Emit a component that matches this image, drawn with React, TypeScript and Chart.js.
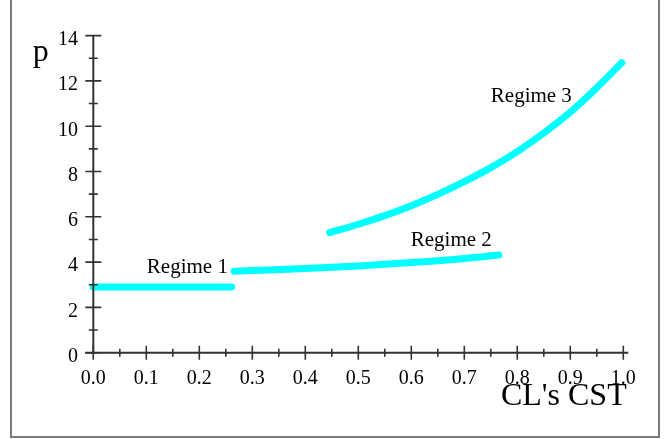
import React, { useEffect, useRef } from "react";
import { Chart, registerables } from "chart.js";

Chart.register(...registerables);

// ---- data ----
const regime1X = [0.0, 0.1, 0.2, 0.261];
const regime1P = [2.9, 2.9, 2.9, 2.9];

const regime2X = [0.266, 0.3, 0.4, 0.5, 0.6, 0.7, 0.765];
const regime2P = [3.6, 3.63, 3.72, 3.83, 3.98, 4.16, 4.31];

const regime3X = [0.446, 0.5, 0.55, 0.6, 0.65, 0.7, 0.75, 0.8, 0.85, 0.9, 0.95, 0.997];
const regime3P = [5.3, 5.67, 6.05, 6.49, 6.99, 7.55, 8.17, 8.88, 9.7, 10.62, 11.7, 12.8];

const xTickValues = [0.0, 0.1, 0.2, 0.3, 0.4, 0.5, 0.6, 0.7, 0.8, 0.9, 1.0];
const xTickLabels = ["0.0", "0.1", "0.2", "0.3", "0.4", "0.5", "0.6", "0.7", "0.8", "0.9", "1.0"];
const xMinorTicks = [0.05, 0.15, 0.25, 0.35, 0.45, 0.55, 0.65, 0.75, 0.85, 0.95];
const yTickValues = [0, 2, 4, 6, 8, 10, 12, 14];
const yTickLabels = ["0", "2", "4", "6", "8", "10", "12", "14"];
const yMinorTicks = [1, 3, 5, 7, 9, 11, 13];

const regimeLabels = ["Regime 1", "Regime 2", "Regime 3"];
const regimeLabelX = [0.101, 0.599, 0.75];
const regimeLabelP = [3.52, 4.71, 11.09];

const xTitle = "CL's CST";
const yTitle = "p";

const toPoints = (xs: number[], ys: number[]) => xs.map((x, i) => ({ x, y: ys[i] }));

const SERIF = "'Liberation Serif', 'Times New Roman', serif";
const AXIS = "#333333";

const axesPlugin = {
  id: "crossAxes",
  afterDatasetsDraw(chart: any) {
    const { ctx, chartArea, scales } = chart;
    const xs = scales.x;
    const ys = scales.y;
    const x0 = xs.getPixelForValue(0);
    const y0 = ys.getPixelForValue(0);
    ctx.save();
    ctx.strokeStyle = AXIS;
    ctx.lineCap = "butt";
    // axis lines
    ctx.lineWidth = 2;
    ctx.beginPath();
    ctx.moveTo(x0, ys.getPixelForValue(14));
    ctx.lineTo(x0, y0);
    ctx.moveTo(x0 - 8, y0);
    ctx.lineTo(xs.getPixelForValue(1) + 5, y0);
    ctx.stroke();
    // ticks
    ctx.lineWidth = 1.6;
    ctx.beginPath();
    yTickValues.forEach((v) => {
      const py = ys.getPixelForValue(v);
      ctx.moveTo(x0 - 8, py);
      ctx.lineTo(x0 + 8, py);
    });
    yMinorTicks.forEach((v) => {
      const py = ys.getPixelForValue(v);
      ctx.moveTo(x0 - 4.5, py);
      ctx.lineTo(x0 + 4.5, py);
    });
    xTickValues.forEach((v) => {
      const px = xs.getPixelForValue(v);
      ctx.moveTo(px, y0 - 7);
      ctx.lineTo(px, y0 + 7);
    });
    xMinorTicks.forEach((v) => {
      const px = xs.getPixelForValue(v);
      ctx.moveTo(px, y0 - 4);
      ctx.lineTo(px, y0 + 4);
    });
    ctx.stroke();

    // tick labels
    ctx.fillStyle = "#000";
    ctx.font = `20px ${SERIF}`;
    ctx.textBaseline = "alphabetic";
    ctx.textAlign = "right";
    yTickValues.forEach((v, i) => {
      ctx.fillText(yTickLabels[i], x0 - 15.3, ys.getPixelForValue(v) + 9.3);
    });
    ctx.textAlign = "center";
    xTickValues.forEach((v, i) => {
      ctx.fillText(xTickLabels[i], xs.getPixelForValue(v), y0 + 31.3);
    });

    // regime labels
    ctx.font = `21px ${SERIF}`;
    ctx.textAlign = "left";
    regimeLabels.forEach((t, i) => {
      ctx.fillText(t, xs.getPixelForValue(regimeLabelX[i]), ys.getPixelForValue(regimeLabelP[i]));
    });

    // axis titles
    ctx.font = `32px ${SERIF}`;
    ctx.textAlign = "left";
    ctx.fillText(yTitle, chartArea.left - 60.5, chartArea.top + 25);
    ctx.textAlign = "right";
    ctx.fillText(xTitle, chartArea.right + 3.4, chartArea.bottom + 52.3);
    ctx.restore();
  },
};

export default function App() {
  const canvasRef = useRef<HTMLCanvasElement | null>(null);

  useEffect(() => {
    if (!canvasRef.current) return;
    const lineStyle = {
      borderColor: "#00FFFF",
      backgroundColor: "#00FFFF",
      borderWidth: 7,
      borderCapStyle: "round" as const,
      borderJoinStyle: "round" as const,
      pointRadius: 0,
      pointHoverRadius: 0,
      fill: false,
      cubicInterpolationMode: "monotone" as const,
      clip: false as const,
    };
    const chart = new Chart(canvasRef.current, {
      type: "line",
      data: {
        datasets: [
          { label: regimeLabels[0], data: toPoints(regime1X, regime1P), ...lineStyle },
          { label: regimeLabels[1], data: toPoints(regime2X, regime2P), ...lineStyle },
          { label: regimeLabels[2], data: toPoints(regime3X, regime3P), ...lineStyle },
        ],
      },
      options: {
        animation: false,
        responsive: false,
        devicePixelRatio: 1,
        layout: { padding: { left: 93.3, right: 46.7, top: 35.6, bottom: 86.3 } },
        plugins: { legend: { display: false }, tooltip: { enabled: false } },
        scales: {
          x: { type: "linear", min: 0, max: 1, display: false },
          y: { type: "linear", min: 0, max: 14, display: false },
        },
      },
      plugins: [axesPlugin],
    });
    return () => chart.destroy();
  }, []);

  return (
    <div style={{ position: "absolute", left: 0, top: 0, width: 670, height: 439, overflow: "hidden", background: "#fff" }}>
      <div
        style={{
          position: "absolute",
          left: 10,
          top: -10,
          width: 646,
          height: 443.5,
          border: "2px solid #7a7a7a",
        }}
      />
      <canvas ref={canvasRef} width={670} height={439} style={{ position: "absolute", left: 0, top: 0 }} />
    </div>
  );
}
